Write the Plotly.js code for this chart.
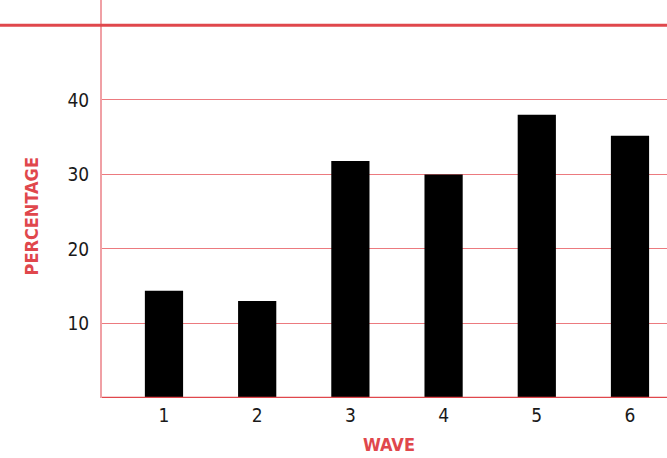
<!DOCTYPE html>
<html>
<head>
<meta charset="utf-8">
<script src="https://cdn.plot.ly/plotly-3.0.1.min.js"></script>
<style>html,body{margin:0;padding:0;background:#fff;}#chart{width:667px;height:458px;}</style>
</head>
<body>
<div id="chart"></div>
<script>
const waves = [1, 2, 3, 4, 5, 6];
const percentages = [14.4, 13.0, 31.8, 30.0, 38.0, 35.2];
const yTicks = [10, 20, 30, 40];
const xTitle = "WAVE";
const yTitle = "PERCENTAGE";

const red = "#e0474c";
const pink = "#f0a0a5";
const grid = "#ec7a7f";
const tickFont = {family: "DejaVu Sans Condensed, DejaVu Sans, sans-serif", size: 19, color: "#1a1a1a", stretch: "condensed"};
const titleFont = {family: "DejaVu Sans Condensed, DejaVu Sans, sans-serif", size: 18, color: red, weight: 700, stretch: "condensed"};

const data = [{
  type: "bar",
  x: waves,
  y: percentages,
  width: 0.41,
  marker: {color: "#000000", line: {width: 0}},
  hoverinfo: "x+y"
}];

const layout = {
  width: 667, height: 458,
  margin: {l: 102, r: 0, t: 0, b: 60},
  paper_bgcolor: "#ffffff",
  plot_bgcolor: "#ffffff",
  showlegend: false,
  xaxis: {
    range: [0.335, 6.397],
    tickvals: waves,
    ticktext: waves.map(String),
    showgrid: false,
    zeroline: false,
    showline: false,
    ticks: "",
    tickfont: tickFont,
    ticklabelstandoff: 4
  },
  yaxis: {
    range: [0, 53.4],
    tickvals: yTicks,
    ticktext: yTicks.map(String),
    showgrid: true,
    gridcolor: grid,
    gridwidth: 1,
    zeroline: false,
    showline: true,
    linecolor: pink,
    linewidth: 2,
    ticks: "",
    tickfont: tickFont,
    ticklabelstandoff: 7
  },
  shapes: [
    {type: "line", xref: "paper", yref: "y", x0: 0, x1: 1, y0: 0, y1: 0, line: {color: red, width: 2.5}},
    {type: "line", xref: "paper", x0: -0.2, x1: 1, yref: "y", y0: 50, y1: 50, line: {color: red, width: 3}}
  ],
  annotations: [
    {text: xTitle, xref: "paper", yref: "paper", x: 0.5085, y: -0.085, xanchor: "center", yanchor: "top", showarrow: false, font: titleFont},
    {text: yTitle, xref: "paper", yref: "paper", x: -0.125, y: 0.457, xanchor: "center", yanchor: "middle", textangle: -90, showarrow: false, font: titleFont}
  ]
};

Plotly.newPlot("chart", data, layout, {displayModeBar: false, staticPlot: true});
</script>
</body>
</html>
